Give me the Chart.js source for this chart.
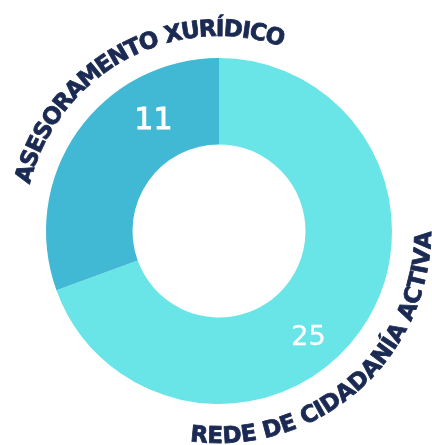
<!DOCTYPE html>
<html>
<head>
<meta charset="utf-8">
<script src="https://cdn.jsdelivr.net/npm/chart.js@4/dist/chart.umd.min.js"></script>
<style>
  html, body { margin: 0; padding: 0; background: #ffffff; }
  #wrap { width: 432px; height: 445px; position: relative; }
  canvas { display: block; }
</style>
</head>
<body>
<div id="wrap"><canvas id="c" width="432" height="445"></canvas></div>
<script>
// ---- data ----
const categories = ['REDE DE CIDADANÍA ACTIVA', 'ASESORAMENTO XURÍDICO'];
const values = [25, 11];
const sliceColors = ['#69E4E7', '#41B8D4'];

// ---- label styling (positions relative to each slice) ----
const valueLabelStyle = [
  { frac: 0.56, rfrac: 0.61, font: '27px "DejaVu Sans", sans-serif', stroke: 0.3 },
  { frac: 0.72, rfrac: 0.48, font: '30px "DejaVu Sans", sans-serif', stroke: 0.9 }
];
const arcLabelStyle = [
  { frac: 0.556, offset: 39, spanDeg: 98, outward: false },
  { frac: 0.74,  offset: 22, spanDeg: 95, outward: true }
];
const arcFont = 'bold 23px "DejaVu Sans", sans-serif';
const arcColor = '#1B2A52';

function drawArcText(ctx, text, cx, cy, rBase, centerAng, span, outward) {
  ctx.save();
  ctx.font = arcFont;
  ctx.fillStyle = arcColor;
  ctx.strokeStyle = arcColor;
  ctx.lineWidth = 0.8;
  ctx.lineJoin = 'round';
  ctx.textAlign = 'center';
  ctx.textBaseline = 'alphabetic';
  const chars = [...text];
  const widths = chars.map(ch => ctx.measureText(ch).width);
  const total = widths.reduce((a, b) => a + b, 0);
  const rMid = outward ? rBase + 8 : rBase - 8;
  const spacing = (span * rMid - total) / (chars.length - 1);
  const dir = outward ? 1 : -1;
  let ang = centerAng - dir * span / 2;
  chars.forEach((ch, i) => {
    const ac = ang + dir * (widths[i] / 2) / rMid;
    ctx.save();
    ctx.translate(cx + rBase * Math.cos(ac), cy + rBase * Math.sin(ac));
    ctx.rotate(outward ? ac + Math.PI / 2 : ac - Math.PI / 2);
    ctx.fillText(ch, 0, 0);
    ctx.strokeText(ch, 0, 0);
    ctx.restore();
    ang += dir * (widths[i] + spacing) / rMid;
  });
  ctx.restore();
}

const labelPlugin = {
  id: 'labels',
  afterDatasetsDraw(chart) {
    const ctx = chart.ctx;
    const meta = chart.getDatasetMeta(0);
    meta.data.forEach((arc, i) => {
      const p = arc.getProps(['x', 'y', 'startAngle', 'endAngle', 'innerRadius', 'outerRadius'], true);
      const vs = valueLabelStyle[i];
      const a = p.startAngle + vs.frac * (p.endAngle - p.startAngle);
      const r = p.innerRadius + vs.rfrac * (p.outerRadius - p.innerRadius);
      ctx.save();
      ctx.font = vs.font;
      ctx.fillStyle = '#ffffff';
      ctx.strokeStyle = '#ffffff';
      ctx.lineWidth = vs.stroke;
      ctx.textAlign = 'center';
      ctx.textBaseline = 'middle';
      const tx = p.x + r * Math.cos(a), ty = p.y + r * Math.sin(a);
      const s = String(chart.data.datasets[0].data[i]);
      ctx.fillText(s, tx, ty);
      ctx.strokeText(s, tx, ty);
      ctx.restore();
      const as = arcLabelStyle[i];
      const ca = p.startAngle + as.frac * (p.endAngle - p.startAngle);
      drawArcText(ctx, chart.data.labels[i], p.x, p.y, p.outerRadius + as.offset, ca,
                  as.spanDeg * Math.PI / 180, as.outward);
    });
  }
};

new Chart(document.getElementById('c'), {
  type: 'doughnut',
  data: {
    labels: categories,
    datasets: [{
      data: values,
      backgroundColor: sliceColors,
      borderWidth: 0,
      hoverOffset: 0
    }]
  },
  options: {
    responsive: false,
    animation: false,
    cutout: '50%',
    layout: { padding: { left: 46, right: 40, top: 58, bottom: 41 } },
    plugins: { legend: { display: false }, tooltip: { enabled: false } }
  },
  plugins: [labelPlugin]
});
</script>
</body>
</html>
